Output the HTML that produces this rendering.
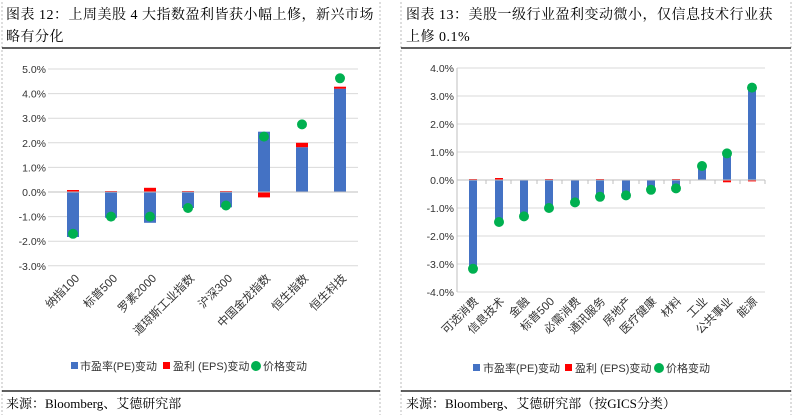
<!DOCTYPE html>
<html><head><meta charset="utf-8"><style>
html,body{margin:0;padding:0;background:#fff;}
svg{display:block;font-family:"Liberation Sans","Noto Sans CJK SC",sans-serif;}
.t{font-family:"Liberation Serif","Noto Serif CJK SC",serif;font-size:14px;letter-spacing:0.5px;fill:#000;}
.s{font-family:"Liberation Serif","Noto Serif CJK SC",serif;font-size:13px;fill:#000;}
.ax{font-size:10.5px;fill:#333;}
.xl{font-size:11.5px;fill:#333;}
.lg{font-size:11px;fill:#333;}
</style></head><body>
<svg width="794" height="417" viewBox="0 0 794 417">
<rect width="794" height="417" fill="#fff"/>
<line x1="2" y1="2" x2="2" y2="415" stroke="#bbb" stroke-dasharray="2,2"/>
<line x1="380" y1="2" x2="380" y2="415" stroke="#bbb" stroke-dasharray="2,2"/>
<line x1="401" y1="2" x2="401" y2="415" stroke="#bbb" stroke-dasharray="2,2"/>
<line x1="791" y1="2" x2="791" y2="415" stroke="#bbb" stroke-dasharray="2,2"/>
<line x1="2" y1="48" x2="380" y2="48" stroke="#000" stroke-width="1.2"/>
<line x1="401" y1="48" x2="791" y2="48" stroke="#000" stroke-width="1.2"/>
<line x1="2" y1="391" x2="380" y2="391" stroke="#000" stroke-width="1.2"/>
<line x1="401" y1="391" x2="791" y2="391" stroke="#000" stroke-width="1.2"/>
<text class="t" x="6" y="19">图表 12：上周美股 4 大指数盈利皆获小幅上修，新兴市场</text>
<text class="t" x="6" y="41">略有分化</text>
<text class="t" x="406" y="19">图表 13：美股一级行业盈利变动微小，仅信息技术行业获</text>
<text class="t" x="406" y="41">上修 0.1%</text>
<text class="s" x="6" y="408">来源：Bloomberg、艾德研究部</text>
<text class="s" x="406" y="408">来源：Bloomberg、艾德研究部（按GICS分类）</text>

<g stroke="#d9d9d9" stroke-width="1">
<line x1="48" x2="358" y1="69" y2="69"/><line x1="48" x2="358" y1="93.6" y2="93.6"/>
<line x1="48" x2="358" y1="118.2" y2="118.2"/><line x1="48" x2="358" y1="142.8" y2="142.8"/>
<line x1="48" x2="358" y1="167.4" y2="167.4"/><line x1="48" x2="358" y1="216.6" y2="216.6"/>
<line x1="48" x2="358" y1="241.2" y2="241.2"/><line x1="48" x2="358" y1="265.8" y2="265.8"/>
</g>
<g class="ax" text-anchor="end">
<text x="46" y="73">5.0%</text><text x="46" y="97.6">4.0%</text><text x="46" y="122.2">3.0%</text>
<text x="46" y="146.8">2.0%</text><text x="46" y="171.4">1.0%</text><text x="46" y="196">0.0%</text>
<text x="46" y="220.6">-1.0%</text><text x="46" y="245.2">-2.0%</text><text x="46" y="269.8">-3.0%</text>
</g>
<g fill="#4472c4">
<rect x="67" y="192" width="12" height="45"/>
<rect x="105" y="192" width="12" height="25.8"/>
<rect x="144" y="192" width="12" height="30.8"/>
<rect x="182" y="192" width="12" height="16"/>
<rect x="220" y="192" width="12" height="15.3"/>
<rect x="258" y="131.7" width="12" height="60.3"/>
<rect x="296" y="147.2" width="12" height="44.8"/>
<rect x="334" y="88.7" width="12" height="103.3"/>
</g>
<g fill="#ff0000">
<rect x="67" y="190" width="12" height="2"/>
<rect x="105" y="191" width="12" height="1"/>
<rect x="144" y="187.8" width="12" height="4.2"/>
<rect x="182" y="191" width="12" height="1"/>
<rect x="220" y="191" width="12" height="1"/>
<rect x="258" y="192" width="12" height="5.4"/>
<rect x="296" y="142.8" width="12" height="4.4"/>
<rect x="334" y="86.7" width="12" height="2"/>
</g>
<line x1="48" x2="358" y1="192" y2="192" stroke="#bfbfbf"/>
<g fill="#00b050">
<circle cx="73" cy="233.8" r="5"/><circle cx="111" cy="216.6" r="5"/>
<circle cx="150" cy="216.6" r="5"/><circle cx="188" cy="208" r="5"/>
<circle cx="226" cy="205.5" r="5"/><circle cx="264" cy="136.6" r="5"/>
<circle cx="302" cy="124.4" r="5"/><circle cx="340" cy="78.3" r="5"/>
</g>
<g class="xl" text-anchor="end">
<text transform="translate(80,279) rotate(-45)">纳指100</text>
<text transform="translate(118,279) rotate(-45)">标普500</text>
<text transform="translate(157,279) rotate(-45)">罗素2000</text>
<text transform="translate(195,279) rotate(-45)">道琼斯工业指数</text>
<text transform="translate(233,279) rotate(-45)">沪深300</text>
<text transform="translate(271,279) rotate(-45)">中国金龙指数</text>
<text transform="translate(309,279) rotate(-45)">恒生指数</text>
<text transform="translate(347,279) rotate(-45)">恒生科技</text>
</g>
<g class="lg">
<rect x="71" y="362" width="7" height="7" fill="#4472c4"/><text x="80" y="370">市盈率(PE)变动</text>
<rect x="163" y="362" width="7" height="7" fill="#ff0000"/><text x="173" y="370">盈利 (EPS)变动</text>
<circle cx="256" cy="366" r="5" fill="#00b050"/><text x="263" y="370">价格变动</text>
</g>

<g stroke="#d9d9d9" stroke-width="1">
<line x1="457" x2="765" y1="68" y2="68"/><line x1="457" x2="765" y1="96" y2="96"/>
<line x1="457" x2="765" y1="124" y2="124"/><line x1="457" x2="765" y1="152" y2="152"/>
<line x1="457" x2="765" y1="208" y2="208"/><line x1="457" x2="765" y1="236" y2="236"/>
<line x1="457" x2="765" y1="264" y2="264"/><line x1="457" x2="765" y1="292" y2="292"/>
</g>
<line x1="457" x2="457" y1="68" y2="292" stroke="#bfbfbf"/>
<g class="ax" text-anchor="end">
<text x="454" y="72">4.0%</text><text x="454" y="100">3.0%</text><text x="454" y="128">2.0%</text>
<text x="454" y="156">1.0%</text><text x="454" y="184">0.0%</text><text x="454" y="212">-1.0%</text>
<text x="454" y="240">-2.0%</text><text x="454" y="268">-3.0%</text><text x="454" y="296">-4.0%</text>
</g>
<g fill="#4472c4">
<rect x="469" y="180" width="8" height="88.2"/>
<rect x="495" y="180" width="8" height="42"/>
<rect x="520" y="180" width="8" height="36.4"/>
<rect x="545" y="180" width="8" height="28"/>
<rect x="571" y="180" width="8" height="22.4"/>
<rect x="596" y="180" width="8" height="16.8"/>
<rect x="622" y="180" width="8" height="15.4"/>
<rect x="647" y="180" width="8" height="9.8"/>
<rect x="672" y="180" width="8" height="8.4"/>
<rect x="698" y="166" width="8" height="14"/>
<rect x="723" y="153.4" width="8" height="26.6"/>
<rect x="748" y="87.6" width="8" height="92.4"/>
</g>
<g fill="#ff0000">
<rect x="469" y="179" width="8" height="1"/>
<rect x="495" y="178" width="8" height="2"/>
<rect x="545" y="179" width="8" height="1"/>
<rect x="596" y="179" width="8" height="1"/>
<rect x="672" y="179" width="8" height="1"/>
<rect x="723" y="180" width="8" height="2.3"/>
<rect x="748" y="180" width="8" height="1.4"/>
</g>
<line x1="457" x2="765" y1="180" y2="180" stroke="#bfbfbf"/>
<g stroke="#bfbfbf">
<line x1="486" x2="486" y1="180" y2="184"/><line x1="511" x2="511" y1="180" y2="184"/>
<line x1="537" x2="537" y1="180" y2="184"/><line x1="562" x2="562" y1="180" y2="184"/>
<line x1="588" x2="588" y1="180" y2="184"/><line x1="613" x2="613" y1="180" y2="184"/>
<line x1="639" x2="639" y1="180" y2="184"/><line x1="664" x2="664" y1="180" y2="184"/>
<line x1="690" x2="690" y1="180" y2="184"/><line x1="715" x2="715" y1="180" y2="184"/>
<line x1="740" x2="740" y1="180" y2="184"/><line x1="765" x2="765" y1="180" y2="184"/>
</g>
<g fill="#00b050">
<circle cx="473" cy="268.8" r="5"/><circle cx="499" cy="222" r="5"/>
<circle cx="524" cy="216.4" r="5"/><circle cx="549" cy="208" r="5"/>
<circle cx="575" cy="202.4" r="5"/><circle cx="600" cy="196.8" r="5"/>
<circle cx="626" cy="195.4" r="5"/><circle cx="651" cy="189.8" r="5"/>
<circle cx="676" cy="188.4" r="5"/><circle cx="702" cy="166" r="5"/>
<circle cx="727" cy="153.4" r="5"/><circle cx="752" cy="87.6" r="5"/>
</g>
<g class="xl" text-anchor="end">
<text transform="translate(479,302) rotate(-45)">可选消费</text>
<text transform="translate(505,302) rotate(-45)">信息技术</text>
<text transform="translate(530,302) rotate(-45)">金融</text>
<text transform="translate(555,302) rotate(-45)">标普500</text>
<text transform="translate(581,302) rotate(-45)">必需消费</text>
<text transform="translate(606,302) rotate(-45)">通讯服务</text>
<text transform="translate(632,302) rotate(-45)">房地产</text>
<text transform="translate(657,302) rotate(-45)">医疗健康</text>
<text transform="translate(682,302) rotate(-45)">材料</text>
<text transform="translate(708,302) rotate(-45)">工业</text>
<text transform="translate(733,302) rotate(-45)">公共事业</text>
<text transform="translate(758,302) rotate(-45)">能源</text>
</g>
<g class="lg">
<rect x="473" y="364" width="7" height="7" fill="#4472c4"/><text x="483" y="372">市盈率(PE)变动</text>
<rect x="565" y="364" width="7" height="7" fill="#ff0000"/><text x="575" y="372">盈利 (EPS)变动</text>
<circle cx="659" cy="368" r="5" fill="#00b050"/><text x="666" y="372">价格变动</text>
</g>
</svg>
</body></html>
